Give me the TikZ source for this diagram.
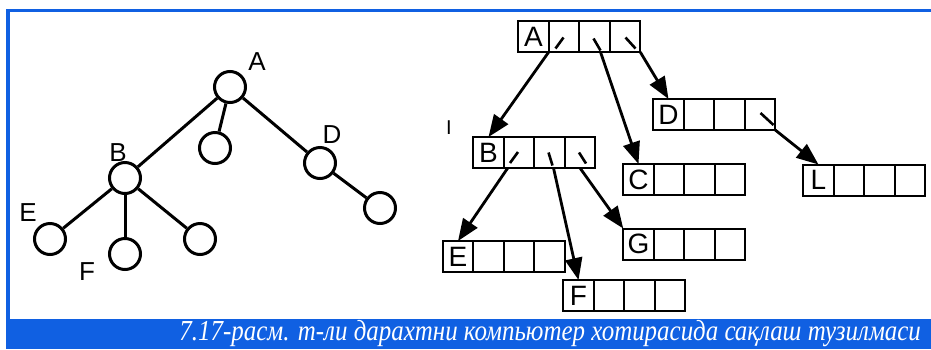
\documentclass[tikz,border=0pt]{standalone}
\usepackage{fontspec}
\usepackage{tikz}
\usetikzlibrary{positioning, arrows.meta}

\newfontfamily\lblfont{Liberation Sans}
\newfontfamily\capfont{Liberation Serif}[FakeStretch=0.86]
\definecolor{frameblue}{RGB}{16,96,226}

\tikzset{
  vert/.style={circle, draw, line width=1.5pt, minimum size=15.5pt, inner sep=0pt},
  edge/.style={line width=1.5pt},
  cell/.style={draw, line width=1pt, minimum width=15.25pt, minimum height=15.5pt,
    inner sep=0pt, outer sep=0pt, font=\lblfont\fontsize{14}{15}\selectfont},
  ptr/.style={line width=1.4pt, -{Triangle[length=11pt,width=8.5pt]}},
  ptrmark/.style={line width=1.3pt},
  lbl/.style={font=\lblfont\fontsize{13}{14}\selectfont}
}

% yozuv: nomi, joyi, harfi
\newcommand{\recbox}[3]{%
  \node[cell] (#11) at (#2) {#3};
  \node[cell, right=0pt of #11] (#12) {};
  \node[cell, right=0pt of #12] (#13) {};
  \node[cell, right=0pt of #13] (#14) {};
}

\begin{document}
\begin{tikzpicture}[x=0.5pt, y=-0.5pt]
                \useasboundingbox (0,0) rectangle (931,349);
                
                % ramka
                \fill[frameblue] (6,9) rectangle (931,12);
                \fill[frameblue] (6,9) rectangle (10,319);
                \fill[frameblue] (6,319) rectangle (931,349);
                \node[anchor=east, text=white, font=\capfont\itshape\fontsize{14.5}{16}\selectfont] (cap) at (928,334)
                  {7.17-расм. m-ли дарахтни компьютер хотирасида сақлаш тузилмаси};
                
                % daraxt
                \node[vert] (tA) at (230,87) {};
                \node[vert] (tM) at (215,148) {};
                \node[vert] (tD) at (320,163) {};
                \node[vert] (tDr) at (380,208) {};
                \node[vert] (tB) at (125,178) {};
                \node[vert] (tE) at (50,239) {};
                \node[vert] (tF) at (125,254) {};
                \node[vert] (tBr) at (200,239) {};
                \draw[edge] (tA) -- (tB);
                \draw[edge] (tA) -- (tM);
                \draw[edge] (tA) -- (tD);
                \draw[edge] (tD) -- (tDr);
                \draw[edge] (tB) -- (tE);
                \draw[edge] (tB) -- (tF);
                \draw[edge] (tB) -- (tBr);
                \node[lbl] (lA) at (257,62) {A};
                \node[lbl] (lD) at (332,135) {D};
                \node[lbl] (lB) at (118,153) {B};
                \node[lbl] (lE) at (28,213) {E};
                \node[lbl] (lF) at (87,272) {F};
                
                % xotiradagi yozuvlar
                \recbox{A}{533.5,36.5}{A}
                \recbox{B}{488.5,152.5}{B}
                \recbox{C}{638.5,179.5}{C}
                \recbox{D}{668.5,114.5}{D}
                \recbox{L}{818.5,180}{L}
                \recbox{E}{458,256.5}{E}
                \recbox{F}{578.5,295.5}{F}
                \recbox{G}{638.5,244}{G}
                \node[font=\lblfont\fontsize{10}{11}\selectfont] (lI) at (449,128) {I};
                
                % ko'rsatkichlar
                \draw[ptrmark] ([shift={(-8.5,12)}]A2.center) -- ++(8,-11);
                \draw[ptrmark] ([shift={(-1,2)}]A3.center) -- ++(7,12);
                \draw[ptrmark] ([shift={(0.5,1)}]A4.center) -- ++(10,11);
                \draw[ptrmark] ([shift={(-9,10.5)}]B2.center) -- ++(8,-11);
                \draw[ptrmark] ([shift={(-1,0)}]B3.center) -- ++(4,13);
                \draw[ptrmark] ([shift={(-1,0)}]B4.center) -- ++(7,11);
                \draw[ptrmark] ([shift={(0.5,-1.5)}]D4.center) -- ++(13,12);
                \draw[ptr] (A2.south west) -- (B1.north);
                \draw[ptr] ([xshift=3pt]A3.south) -- (C1.north);
                \draw[ptr] (A4.south east) -- (D1.north);
                \draw[ptr] (D4.south east) -- (L1.north);
                \draw[ptr] ([xshift=2pt]B2.south west) -- (E1.north);
                \draw[ptr] ([xshift=2pt]B3.south) -- (F1.north);
                \draw[ptr] (B4.south) -- (G1.north west);
            \end{tikzpicture}
\end{document}
